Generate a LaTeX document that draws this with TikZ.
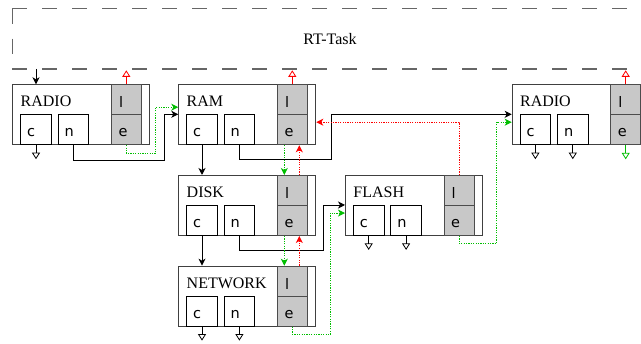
\documentclass[tikz,border=0pt]{standalone}
\usepackage{fontspec}
\setmainfont{Liberation Serif}
\newfontfamily\lblfont{DejaVu Sans}
\usetikzlibrary{arrows.meta,calc}
\definecolor{gline}{RGB}{0,190,0}
\definecolor{cellgray}{RGB}{200,200,200}
\tikzset{
  blk/.style={draw=black!75, line width=1pt, minimum width=137pt, minimum height=60pt, inner sep=0pt, anchor=north west},
  cell/.style={draw=black, line width=0.9pt, minimum width=30.5pt, minimum height=30pt, inner sep=0pt, anchor=north west, fill=white},
  gcell/.style={draw=black!70, line width=1pt, fill=cellgray, minimum width=30pt, minimum height=30pt, inner sep=0pt, anchor=north west},
  ttl/.style={font=\fontsize{16}{16}\selectfont, inner sep=0pt, anchor=base west},
  sym/.style={font=\lblfont\fontsize{14.5}{14.5}\selectfont, inner sep=0pt, anchor=base west},
  frame/.style={draw=black!60, line width=1.2pt, dash pattern=on 15pt off 15pt},
  conn/.style={line width=0.9pt, -{Stealth[length=7pt,width=7pt,inset=2pt]}},
  gconn/.style={conn, color=gline, dash pattern=on 1.2pt off 1.2pt},
  rconn/.style={conn, color=red, dash pattern=on 1.2pt off 1.2pt},
  stub/.style={line width=0.8pt, -{Triangle[open,length=6.5pt,width=8pt]}},
  rstub/.style={stub, color=red},
  gstub/.style={stub, color=gline},
}
\newcommand\mkblock[4]{%
  \node[blk] (#1) at (#2,#3) {};
  \node[ttl] (#1-t) at (#2+8.2,#3+22.4) {#4};
  \node[cell] (#1-c) at (#2+8,#3+30) {};
  \node[cell] (#1-n) at (#2+45.4,#3+30) {};
  \node[gcell] (#1-l) at (#2+98.5,#3) {};
  \node[gcell] (#1-e) at (#2+98.5,#3+30) {};
  \node[sym] (#1-ct) at (#2+8+6.6,#3+52.4) {c};
  \node[sym] (#1-nt) at (#2+45.4+6.7,#3+52.4) {n};
  \node[sym] (#1-lt) at (#2+98.5+8,#3+23.4) {l};
  \node[sym] (#1-et) at (#2+98.5+7.5,#3+52.4) {e};
}
\begin{document}
\begin{tikzpicture}[x=1pt,y=-1pt]
\useasboundingbox (0,0) rectangle (641,344);
% RT-Task frame
\coordinate (fTL) at (12.3,8.7);
\coordinate (fTR) at (641,8.7);
\coordinate (fBL) at (12.3,69);
\coordinate (fBR) at (641,69);
\draw[frame] (fTL) -- (fTR);
\draw[frame] (fTL) -- (fBL);
\draw[frame] (fBL) -- (fBR);
\node[font=\fontsize{16}{16}\selectfont, inner sep=0pt] (rt) at (330,39) {RT-Task};
% blocks
\mkblock{radioA}{12.3}{84.3}{RADIO}
\mkblock{ram}{178.3}{84.3}{RAM}
\mkblock{disk}{178.3}{175}{DISK}
\mkblock{net}{178.3}{265.7}{NETWORK}
\mkblock{flash}{345}{175}{FLASH}
\mkblock{radioB}{511.7}{84.3}{RADIO}
% entry arrow
\coordinate (inA) at (36,69);
\draw[conn] (inA) -- (inA |- radioA.north);
% stubs
\draw[rstub] (radioA-l.north) -- ++(0,-14);
\draw[rstub] (ram-l.north) -- ++(0,-14);
\draw[rstub] (radioB-l.north) -- ++(0,-14);
\draw[stub] (radioA-c.south) -- ++(0,14);
\draw[stub] (net-c.south) -- ++(0,14);
\draw[stub] (net-n.south) -- ++(0,14);
\draw[stub] (flash-c.south) -- ++(0,14);
\draw[stub] (flash-n.south) -- ++(0,14);
\draw[stub] (radioB-c.south) -- ++(0,14);
\draw[stub] (radioB-n.south) -- ++(0,14);
\draw[gstub] (radioB-e.south) -- ++(0,14);
% black next links
\draw[conn] (radioA-n.south) -- ++(0,15) -| ($(ram.west|-ram-n.north)+(-14.3,0)$) -- (ram.west|-ram-n.north);
\draw[conn] (ram-n.south) -- ++(0,14) -| ($(ram.east|-radioB-n.north)+(15.3,0)$) -- (radioB.west|-radioB-n.north);
\draw[conn] (disk-n.south) -- ++(0,14.7) -| ($(disk.east|-flash-n.north)+(7.3,0)$) -- (flash.west|-flash-n.north);
\draw[conn] (ram-c.south) -- (ram-c.south |- disk.north);
\draw[conn] (disk-c.south) -- (disk-c.south |- net.north);
% green e links
\draw[gconn] (radioA-e.south) -- ++(0,8) -| ($(ram.west)+(-22.6,-7.6)$) -- ($(ram.west)+(0,-7.6)$);
\draw[gconn] (net-e.south) -- ++(0,7.6) -| ($(flash.west)+(-14.7,7.6)$) -- ($(flash.west)+(0,7.6)$);
\draw[gconn] (flash-e.south) -- ++(0,7.5) -| ($(radioB.west)+(-15,7.4)$) -- ($(radioB.west)+(0,7.4)$);
\draw[gconn] ($(ram-e.south)+(-8,0)$) -- ($(disk-l.north)+(-8,0)$);
\draw[gconn] ($(disk-e.south)+(-8,0)$) -- ($(net-l.north)+(-8,0)$);
% red l links
\draw[rconn] (flash-l.north) |- ($(ram.east)+(0,7.4)$);
\draw[rconn] ($(disk-l.north)+(7,0)$) -- ($(ram-e.south)+(7,0)$);
\draw[rconn] ($(net-l.north)+(7,0)$) -- ($(disk-e.south)+(7,0)$);
\end{tikzpicture}
\end{document}
